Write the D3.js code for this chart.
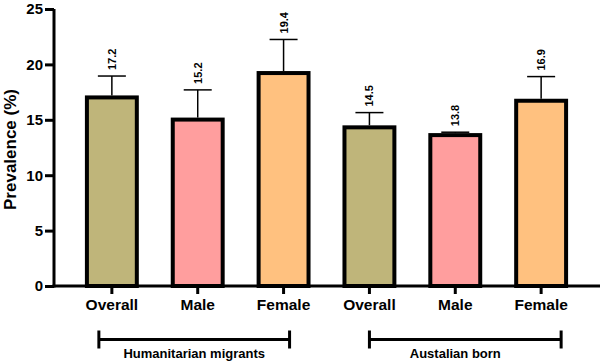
<!DOCTYPE html>
<html>
<head>
<meta charset="utf-8">
<script src="https://cdn.jsdelivr.net/npm/d3@7/dist/d3.min.js"></script>
<style>
    body { margin: 0; background: #fff; }
    text { font-family: "Liberation Sans", Arial, sans-serif; font-weight: bold; fill: #000; }
</style>
</head>
<body>
<svg id="chart" width="600" height="363"></svg>
<script>
    // categories, in drawing order
    var categories = ["HM-Overall", "HM-Male", "HM-Female", "AB-Overall", "AB-Male", "AB-Female"];
    var tickLabels = ["Overall", "Male", "Female", "Overall", "Male", "Female"];
    var prevalence = [17.2, 15.2, 19.4, 14.5, 13.8, 16.9];
    var upperError = [18.95, 17.7, 22.25, 15.65, 13.88, 18.9];
    var yTicks = [0, 5, 10, 15, 20, 25];
    var groupNames = ["Humanitarian migrants", "Austalian born"];
    var groupMembers = [[0, 1, 2], [3, 4, 5]];
    var fillColors = ["#bfb57a", "#ff9e9e", "#ffc17f", "#bfb57a", "#ff9e9e", "#ffc17f"];

    var svg = d3.select("#chart");

    var x = d3.scaleBand()
        .domain(categories)
        .range([54, 599])
        .paddingInner(0.372)
        .paddingOuter(0.36);

    var y = d3.scaleLinear()
        .domain([0, 25])
        .range([286, 9]);

    var bw = x.bandwidth();
    var stroke = 4;

    // bars (outer edge of the border sits on the value, like Prism does)
    svg.selectAll("rect.bar")
        .data(prevalence)
        .enter()
        .append("rect")
        .attr("class", "bar")
        .attr("x", function(d, i) { return x(categories[i]) + stroke / 2; })
        .attr("y", function(d) { return y(d) + stroke / 2; })
        .attr("width", bw - stroke)
        .attr("height", function(d) { return y(0) - y(d) - stroke / 2; })
        .attr("fill", function(d, i) { return fillColors[i]; })
        .attr("stroke", "#000")
        .attr("stroke-width", stroke);

    // error bars (upper only)
    var err = svg.selectAll("g.err")
        .data(prevalence)
        .enter()
        .append("g")
        .attr("class", "err");

    err.append("line")
        .attr("x1", function(d, i) { return x(categories[i]) + bw / 2; })
        .attr("x2", function(d, i) { return x(categories[i]) + bw / 2; })
        .attr("y1", function(d) { return y(d); })
        .attr("y2", function(d, i) { return y(upperError[i]); })
        .attr("stroke", "#000")
        .attr("stroke-width", 1.5);

    err.append("line")
        .attr("x1", function(d, i) { return x(categories[i]) + bw / 2 - 14; })
        .attr("x2", function(d, i) { return x(categories[i]) + bw / 2 + 14; })
        .attr("y1", function(d, i) { return y(upperError[i]); })
        .attr("y2", function(d, i) { return y(upperError[i]); })
        .attr("stroke", "#000")
        .attr("stroke-width", 1.5);

    // value labels, rotated
    svg.selectAll("text.val")
        .data(prevalence)
        .enter()
        .append("text")
        .attr("class", "val")
        .attr("transform", function(d, i) {
            return "translate(" + (x(categories[i]) + bw / 2 + 4) + "," + (y(upperError[i]) - 6) + ") rotate(-90)";
        })
        .attr("font-size", "11px")
        .text(function(d) { return d.toFixed(1); });

    // y axis
    var yAxis = svg.append("g")
        .attr("transform", "translate(54,0)")
        .call(d3.axisLeft(y).tickValues(yTicks).tickSize(9).tickPadding(2));
    yAxis.select(".domain").attr("stroke-width", 3).attr("d", "M0," + (y(0) + 1.5) + "V" + y(25));
    yAxis.selectAll(".tick line").attr("stroke-width", 3);
    yAxis.selectAll(".tick text").attr("font-size", "15px").attr("font-family", "Liberation Sans, Arial, sans-serif");

    // x axis
    var xAxis = svg.append("g")
        .attr("transform", "translate(0," + y(0) + ")")
        .call(d3.axisBottom(x).tickSize(8).tickPadding(5).tickFormat(function(d, i) { return tickLabels[i]; }));
    xAxis.select(".domain").attr("stroke-width", 3).attr("d", "M52.5,0H600");
    xAxis.selectAll(".tick line").attr("stroke-width", 3);
    xAxis.selectAll(".tick text").attr("font-size", "15.5px").attr("font-family", "Liberation Sans, Arial, sans-serif");

    // y title
    svg.append("text")
        .attr("transform", "translate(16," + ((y(0) + y(25)) / 2 + 2) + ") rotate(-90)")
        .attr("text-anchor", "middle")
        .attr("font-size", "17px")
        .text("Prevalence (%)");

    // group brackets
    var bracketOffsets = [[-13, 6], [0, 20]];
    groupMembers.forEach(function(members, g) {
        var first = x(categories[members[0]]) + bw / 2;
        var last = x(categories[members[members.length - 1]]) + bw / 2;
        var mid = x(categories[members[1]]) + bw / 2;
        var x1 = first + bracketOffsets[g][0];
        var x2 = last + bracketOffsets[g][1];
        var by = 339.5;
        var br = svg.append("g").attr("stroke", "#000").attr("stroke-width", 3);
        br.append("line").attr("x1", x1).attr("x2", x2).attr("y1", by).attr("y2", by);
        br.append("line").attr("x1", x1).attr("x2", x1).attr("y1", by - 9).attr("y2", by + 9);
        br.append("line").attr("x1", x2).attr("x2", x2).attr("y1", by - 9).attr("y2", by + 9);
        svg.append("text")
            .attr("x", g === 0 ? (x1 + x2) / 2 : mid)
            .attr("y", 358)
            .attr("text-anchor", "middle")
            .attr("font-size", "13px")
            .text(groupNames[g]);
    });
</script>
</body>
</html>
